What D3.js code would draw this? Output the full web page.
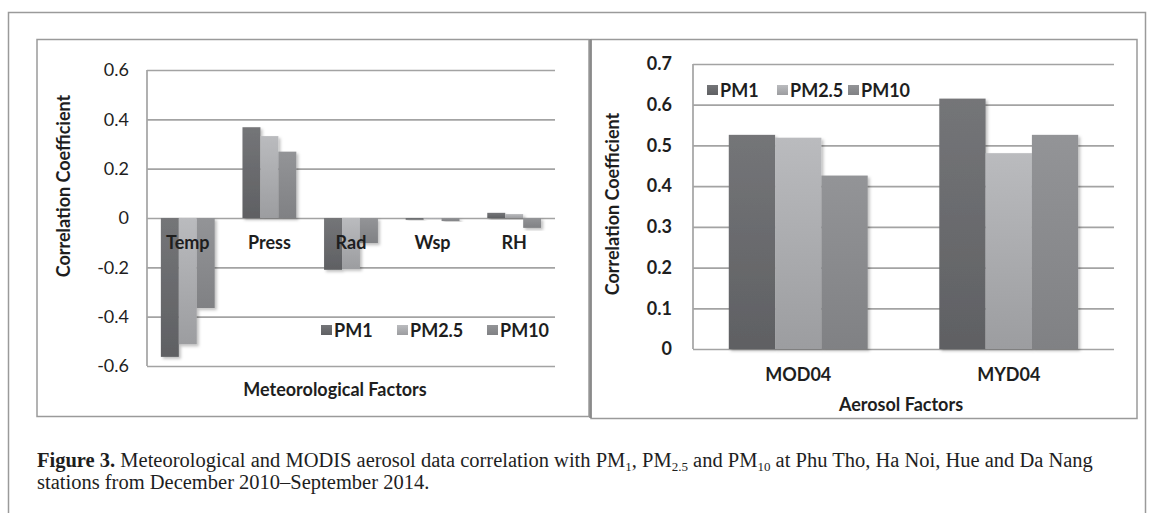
<!DOCTYPE html>
<html lang="en">
<head>
<meta charset="utf-8">
<title>Figure 3</title>
<script type="text/javascript" src="https://cdn.jsdelivr.net/npm/d3@7/dist/d3.min.js"></script>
<style type="text/css">
  body { margin:0; background:#fff; }
  .lbl { font-family: Lato, "Open Sans", sans-serif; fill:#1e1e1e; }
  .cap { font-family: "Liberation Serif", serif; fill:#1e1e1e; }
</style>
</head>
<body>
<script type="text/javascript">

  // left chart: meteorological factors
  var metCategories = ["Temp", "Press", "Rad", "Wsp", "RH"];
  var metPM1  = [-0.563, 0.368, -0.21, -0.007, 0.021];
  var metPM25 = [-0.512, 0.332, -0.206, -0.004, 0.016];
  var metPM10 = [-0.365, 0.269, -0.102, -0.012, -0.04];
  var metTicks = [-0.6, -0.4, -0.2, 0, 0.2, 0.4, 0.6];

  // right chart: aerosol factors
  var aerCategories = ["MOD04", "MYD04"];
  var aerPM1  = [0.526, 0.615];
  var aerPM25 = [0.519, 0.481];
  var aerPM10 = [0.426, 0.526];
  var aerTicks = [0, 0.1, 0.2, 0.3, 0.4, 0.5, 0.6, 0.7];

  var seriesNames = ["PM1", "PM2.5", "PM10"];
  var seriesColors = [["#747578", "#5f6063"], ["#babbbe", "#9c9da0"], ["#939497", "#808184"]];

  var w = 1153, h = 513;
  var fs = "18px";

  var svg = d3.select("body").append("svg")
      .attr("width", w)
      .attr("height", h);

  svg.append("rect").attr("width", w).attr("height", h).attr("fill", "#fff");

  var defs = svg.append("defs");
  seriesColors.forEach(function(c, i){
    var g = defs.append("linearGradient").attr("id", "grad" + i)
        .attr("x1", 0).attr("y1", 0).attr("x2", 0).attr("y2", 1);
    g.append("stop").attr("offset", "0%").attr("stop-color", c[0]);
    g.append("stop").attr("offset", "100%").attr("stop-color", c[1]);
  });
  defs.append("filter").attr("id", "shadow")
      .attr("x", "-20%").attr("y", "-20%").attr("width", "150%").attr("height", "150%")
    .append("feDropShadow")
      .attr("dx", 2).attr("dy", 2).attr("stdDeviation", 1.5)
      .attr("flood-color", "#000").attr("flood-opacity", 0.25);

  // outer frame and panels
  svg.append("rect").attr("x", 8.5).attr("y", 12.5).attr("width", 1137).attr("height", 520)
     .attr("fill", "none").attr("stroke", "#9a9a9a").attr("stroke-width", 1.5);
  svg.append("rect").attr("x", 37).attr("y", 39.5).attr("width", 552).attr("height", 377)
     .attr("fill", "none").attr("stroke", "#9a9a9a").attr("stroke-width", 1.5);
  svg.append("rect").attr("x", 591).attr("y", 39.5).attr("width", 546).attr("height", 379)
     .attr("fill", "none").attr("stroke", "#9a9a9a").attr("stroke-width", 1.5);
  svg.append("line").attr("x1", 590.5).attr("x2", 590.5).attr("y1", 39).attr("y2", 418)
     .attr("stroke", "#8a8a8a").attr("stroke-width", 2.5);

  function drawChart(opt){
    var x0 = d3.scaleBand().domain(opt.cats).range([opt.left, opt.right])
        .paddingInner(0.34).paddingOuter(0.17);
    var x1 = d3.scaleBand().domain(seriesNames).range([0, x0.bandwidth()]);
    var y = d3.scaleLinear().domain(d3.extent(opt.ticks)).range([opt.bottom, opt.top]);

    var axis = svg.append("g").attr("transform", "translate(" + opt.left + ",0)")
        .call(d3.axisLeft(y).tickValues(opt.ticks)
          .tickSize(-(opt.right - opt.left)).tickPadding(opt.pad)
          .tickFormat(function(d){ return d === 0 ? "0" : d.toFixed(1); }));
    axis.select(".domain").remove();
    axis.selectAll("line").attr("stroke", "#a3a3a3").attr("stroke-width", 1.7);
    axis.selectAll("text").attr("class", "lbl")
        .style("font-size", fs).style("font-weight", opt.tickWeight)
        .attr("fill", "#1e1e1e");

    svg.append("line").attr("x1", opt.left).attr("x2", opt.left)
       .attr("y1", opt.top).attr("y2", opt.bottom)
       .attr("stroke", "#a3a3a3").attr("stroke-width", 1.7);

    var rows = opt.cats.map(function(c, i){
      return seriesNames.map(function(s, j){
        return {cat: c, s: s, j: j, v: opt.values[j][i]};
      });
    });

    var groups = svg.append("g").selectAll("g").data(rows).enter().append("g")
        .attr("transform", function(d){ return "translate(" + x0(d[0].cat) + ",0)"; });
    groups.selectAll("rect").data(function(d){ return d; }).enter().append("rect")
        .attr("x", function(d){ return x1(d.s); })
        .attr("width", x1.bandwidth())
        .attr("y", function(d){ return y(Math.max(0, d.v)); })
        .attr("height", function(d){ return Math.abs(y(d.v) - y(0)); })
        .attr("fill", function(d){ return "url(#grad" + d.j + ")"; })
        .attr("filter", "url(#shadow)");

    svg.append("g").selectAll("text").data(opt.cats).enter().append("text")
        .attr("class", "lbl")
        .attr("x", function(d){ return x0(d) + x0.bandwidth() / 2; })
        .attr("y", opt.catY)
        .attr("text-anchor", "middle")
        .style("font-size", fs).style("font-weight", "bold")
        .text(function(d){ return d; });

    // legend
    var lg = svg.append("g");
    seriesNames.forEach(function(s, j){
      lg.append("rect").attr("x", opt.legX[j]).attr("y", opt.legY - 5)
        .attr("width", 11).attr("height", 10)
        .attr("fill", "url(#grad" + j + ")");
      lg.append("text").attr("class", "lbl")
        .attr("x", opt.legX[j] + 13).attr("y", opt.legY + 6.5)
        .style("font-size", fs).style("font-weight", "bold")
        .text(s);
    });

    svg.append("text").attr("class", "lbl")
       .attr("x", opt.xTitle[0]).attr("y", opt.xTitle[1])
       .attr("text-anchor", "middle")
       .style("font-size", fs).style("font-weight", "bold")
       .text(opt.xLabel);

    svg.append("text").attr("class", "lbl")
       .attr("transform", "translate(" + opt.yTitle[0] + "," + opt.yTitle[1] + ") rotate(-90)")
       .attr("text-anchor", "middle")
       .style("font-size", fs).style("font-weight", "bold")
       .text("Correlation Coefficient");
  }

  drawChart({
    cats: metCategories, values: [metPM1, metPM25, metPM10], ticks: metTicks,
    left: 147, right: 555, top: 70, bottom: 366, pad: 18, tickWeight: "normal",
    catY: 249, legX: [321, 397, 487], legY: 330,
    xLabel: "Meteorological Factors", xTitle: [335, 396], yTitle: [70, 186]
  });

  drawChart({
    cats: aerCategories, values: [aerPM1, aerPM25, aerPM10], ticks: aerTicks,
    left: 693, right: 1114, top: 64, bottom: 349, pad: 21, tickWeight: "bold",
    catY: 381, legX: [707, 777, 848], legY: 90,
    xLabel: "Aerosol Factors", xTitle: [901, 411], yTitle: [619, 204]
  });

  // caption
  var cap1 = svg.append("text").attr("class", "cap")
      .attr("x", 37).attr("y", 467).style("font-size", "20.5px");
  cap1.append("tspan").style("font-weight", "bold").text("Figure 3.");
  cap1.append("tspan").text(" Meteorological and MODIS aerosol data correlation with PM");
  cap1.append("tspan").attr("dy", 4).style("font-size", "13px").text("1");
  cap1.append("tspan").attr("dy", -4).text(", PM");
  cap1.append("tspan").attr("dy", 4).style("font-size", "13px").text("2.5");
  cap1.append("tspan").attr("dy", -4).text(" and PM");
  cap1.append("tspan").attr("dy", 4).style("font-size", "13px").text("10");
  cap1.append("tspan").attr("dy", -4).text(" at Phu Tho, Ha Noi, Hue and Da Nang");

  svg.append("text").attr("class", "cap")
     .attr("x", 37).attr("y", 489).style("font-size", "20.5px")
     .text("stations from December 2010\u2013September 2014.");

</script>
</body>
</html>
